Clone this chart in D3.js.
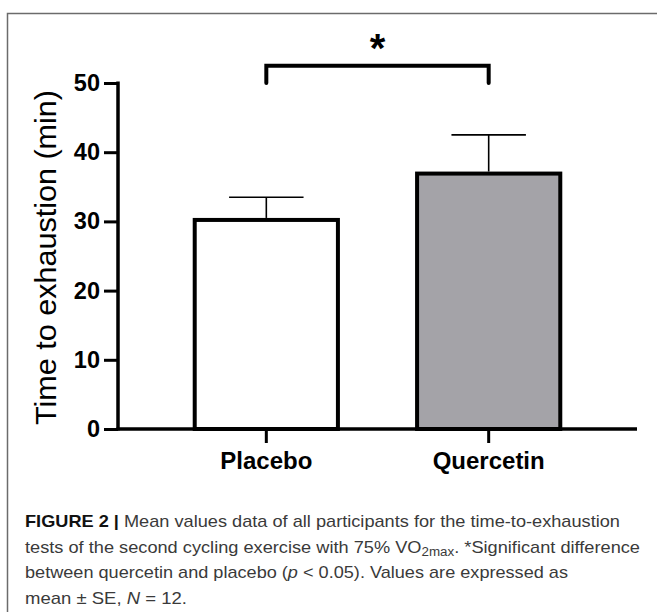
<!DOCTYPE html>
<html>
<head>
<meta charset="utf-8">
<script src="https://d3js.org/d3.v7.min.js"></script>
<style>
  html, body { margin: 0; padding: 0; background: #fff; }
  svg { display: block; }
  text { font-family: "Liberation Sans", Arial, Helvetica, sans-serif; }
</style>
</head>
<body>
<div id="content"></div>
<script>
// chart data (minutes, mean and SE)
var groups = ["Placebo", "Quercetin"];
var means = [30.5, 37.2];
var errors = [3.0, 5.3];
var barFills = ["#ffffff", "#a4a3a8"];
var yTicks = [0, 10, 20, 30, 40, 50];
var yLabel = "Time to exhaustion (min)";

// caption lines, split into styled pieces
var captionLines = [
  [{t: "FIGURE 2 | ", b: true}, {t: "Mean values data of all participants for the time-to-exhaustion"}],
  [{t: "tests of the second cycling exercise with 75% VO"}, {t: "2max", sub: true}, {t: ". *Significant difference"}],
  [{t: "between quercetin and placebo ("}, {t: "p", i: true}, {t: " < 0.05). Values are expressed as"}],
  [{t: "mean \u00b1 SE, "}, {t: "N", i: true}, {t: " = 12."}]
];
var captionWidths = [595, 615, 543, 162];

var W = 657, H = 612;
var plot = {left: 118, right: 637, top: 83, bottom: 429};

var svg = d3.select("#content")
  .append("svg")
  .attr("width", W)
  .attr("height", H);

// outer frame of the figure
svg.append("rect")
  .attr("x", 7.5).attr("y", 13.5)
  .attr("width", 700).attr("height", 700)
  .attr("fill", "none")
  .attr("stroke", "#6b6b6b")
  .attr("stroke-width", 1.5);

var y = d3.scaleLinear().domain([0, 50]).range([plot.bottom, plot.top]);
var x = d3.scaleBand().domain(groups)
  .range([plot.left, plot.right])
  .paddingInner(0.356)
  .paddingOuter(0.345);

var g = svg.append("g");

// bars
g.selectAll(".bar")
  .data(groups)
  .join("rect")
  .attr("class", "bar")
  .attr("x", d => x(d))
  .attr("width", x.bandwidth())
  .attr("y", (d, i) => y(means[i]) + 2)
  .attr("height", (d, i) => y(0) - y(means[i]) - 2)
  .attr("fill", (d, i) => barFills[i])
  .attr("stroke", "#000")
  .attr("stroke-width", 4);

// error bars (upper only)
var capW = x.bandwidth() * 0.52;
g.selectAll(".err")
  .data(groups)
  .join("line")
  .attr("class", "err")
  .attr("x1", d => x(d) + x.bandwidth() / 2)
  .attr("x2", d => x(d) + x.bandwidth() / 2)
  .attr("y1", (d, i) => y(means[i]))
  .attr("y2", (d, i) => y(means[i] + errors[i]))
  .attr("stroke", "#000")
  .attr("stroke-width", 1.6);

g.selectAll(".cap")
  .data(groups)
  .join("line")
  .attr("class", "cap")
  .attr("x1", d => x(d) + x.bandwidth() / 2 - capW / 2)
  .attr("x2", d => x(d) + x.bandwidth() / 2 + capW / 2)
  .attr("y1", (d, i) => y(means[i] + errors[i]))
  .attr("y2", (d, i) => y(means[i] + errors[i]))
  .attr("stroke", "#000")
  .attr("stroke-width", 1.6);

// y axis
var yAxis = g.append("g")
  .attr("transform", "translate(" + plot.left + ",0)")
  .call(d3.axisLeft(y).tickValues(yTicks).tickSize(14).tickSizeOuter(0).tickPadding(4));
yAxis.select(".domain").attr("stroke-width", 3.5).attr("d", "M0," + (plot.top - 1.5) + "V" + (plot.bottom + 1.5));
yAxis.selectAll(".tick line").attr("stroke-width", 3);
yAxis.selectAll(".tick text")
  .attr("font-size", 23.5)
  .attr("font-weight", "bold")
  .attr("font-family", "'Liberation Sans', Arial, sans-serif")
  .attr("fill", "#000");

// x axis
var xAxis = g.append("g")
  .attr("transform", "translate(0," + plot.bottom + ")")
  .call(d3.axisBottom(x).tickSize(14).tickSizeOuter(0).tickPadding(9));
xAxis.select(".domain").attr("stroke-width", 3.5).attr("d", "M" + (plot.left - 1.5) + ",0H" + plot.right);
xAxis.selectAll(".tick line").attr("stroke-width", 3);
xAxis.selectAll(".tick text")
  .attr("font-size", 24)
  .attr("font-weight", "bold")
  .attr("font-family", "'Liberation Sans', Arial, sans-serif")
  .attr("fill", "#000");

// y axis title
svg.append("text")
  .attr("transform", "translate(56,257.5) rotate(-90)")
  .attr("text-anchor", "middle")
  .attr("font-size", 30)
  .attr("fill", "#000")
  .attr("textLength", 335)
  .attr("lengthAdjust", "spacingAndGlyphs")
  .text(yLabel);

// significance bracket
var cx0 = x(groups[0]) + x.bandwidth() / 2;
var cx1 = x(groups[1]) + x.bandwidth() / 2;
g.append("path")
  .attr("d", "M" + cx0 + "," + y(50) + "V" + y(52.5) + "H" + cx1 + "V" + y(50))
  .attr("fill", "none")
  .attr("stroke", "#000")
  .attr("stroke-width", 4)
  .attr("stroke-linecap", "round")
  .attr("stroke-linejoin", "miter");

g.append("text")
  .attr("x", (cx0 + cx1) / 2)
  .attr("y", y(52.5) - 4)
  .attr("text-anchor", "middle")
  .attr("font-size", 40)
  .attr("font-weight", "bold")
  .attr("fill", "#000")
  .text("*");

// caption
var capBase = [527, 552.5, 578, 603.5];
captionLines.forEach(function(parts, li) {
  var t = svg.append("text")
    .attr("x", 25)
    .attr("y", capBase[li])
    .attr("font-size", 17)
    .attr("fill", "#3a3a3a")
    .attr("textLength", captionWidths[li])
    .attr("lengthAdjust", "spacingAndGlyphs");
  parts.forEach(function(p) {
    var s = t.append("tspan").text(p.t);
    if (p.b) s.attr("font-weight", "bold").attr("fill", "#111");
    if (p.i) s.attr("font-style", "italic");
    if (p.sub) s.attr("font-size", 12.5).attr("dy", 3);
    else if (p.t[0] === ".") s.attr("dy", -3);
  });
});
</script>
</body>
</html>
